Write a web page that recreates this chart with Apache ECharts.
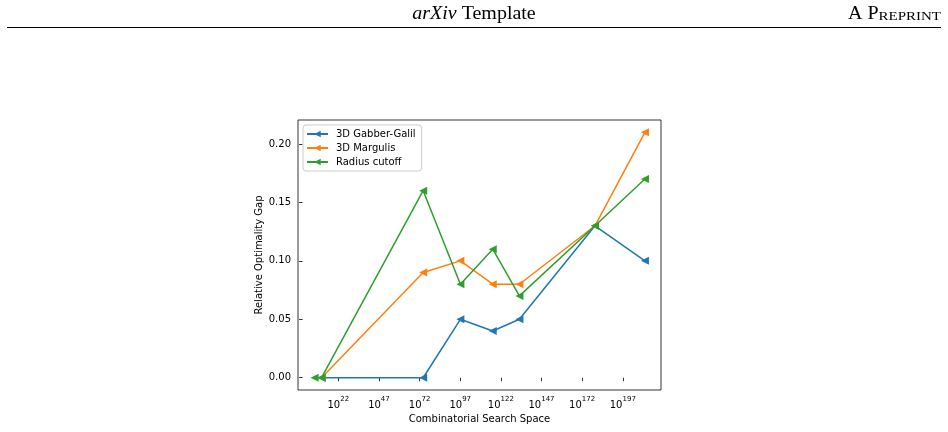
<!DOCTYPE html>
<html>
<head>
<meta charset="utf-8">
<script src="https://cdn.jsdelivr.net/npm/echarts@6/dist/echarts.min.js"></script>
<style>
  html, body { margin: 0; padding: 0; background: #fff; }
  #chart { width: 948px; height: 432px; }
</style>
</head>
<body>
<div id="chart"></div>
<script>
// x values are log10 of the search space size
const xTicks = [22, 47, 72, 97, 122, 147, 172, 197];
const yTicks = [0, 0.05, 0.1, 0.15, 0.2];

const gabberX = [11.7, 74.2, 97.1, 117.0, 133.4, 179.9, 210.6];
const gabberY = [0, 0, 0.05, 0.04, 0.05, 0.13, 0.10];

const margulisX = [11.7, 74.2, 97.1, 117.0, 133.4, 179.9, 210.6];
const margulisY = [0, 0.09, 0.10, 0.08, 0.08, 0.13, 0.21];

const radiusX = [7.4, 11.7, 74.2, 97.1, 117.0, 133.4, 179.9, 210.6];
const radiusY = [0, 0, 0.16, 0.08, 0.11, 0.07, 0.13, 0.17];

const FONT = "DejaVu Sans";
const SERIF = "Liberation Serif";

function pairs(xs, ys) {
  return xs.map((x, i) => [x, ys[i]]);
}

function lineSeries(name, xs, ys, color) {
  return {
    name: name,
    type: "line",
    data: pairs(xs, ys),
    symbol: "triangle",
    symbolSize: 8,
    symbolRotate: 90,
    lineStyle: { color: color, width: 1.5 },
    itemStyle: { color: color },
    animation: false,
  };
}

const chart = echarts.init(document.getElementById("chart"));
chart.setOption({
  backgroundColor: "#fff",
  textStyle: { fontFamily: FONT },
  grid: {
    left: 298, right: 287, top: 120, bottom: 42,
    show: true, borderColor: "#000", borderWidth: 0.8,
  },
  legend: {
    orient: "vertical",
    left: 303, top: 125,
    padding: [4, 6, 4, 3],
    itemWidth: 21, itemHeight: 8, itemGap: 4,
    backgroundColor: "rgba(255,255,255,0.8)",
    borderColor: "#ccc", borderWidth: 1, borderRadius: 3,
    textStyle: { fontFamily: FONT, fontSize: 10, color: "#000", padding: [0, 0, 0, 3] },
    data: ["3D Gabber-Galil", "3D Margulis", "Radius cutoff"],
  },
  xAxis: {
    type: "value",
    min: -2.8, max: 220.5,
    name: "Combinatorial Search Space",
    nameLocation: "middle",
    nameGap: 24,
    nameTextStyle: { fontFamily: FONT, fontSize: 10, color: "#000" },
    splitLine: { show: false },
    axisLine: { show: false },
    axisTick: { show: true, length: 3.5, lineStyle: { color: "#000", width: 0.8 }, customValues: xTicks },
    axisLabel: {
      customValues: xTicks,
      margin: 6,
      formatter: (v) => "{b|10}{s|" + v + "}",
      rich: {
        b: { fontFamily: FONT, fontSize: 10, color: "#000", lineHeight: 14, verticalAlign: "bottom" },
        s: { fontFamily: FONT, fontSize: 7, color: "#000", lineHeight: 9, verticalAlign: "top" },
      },
    },
  },
  yAxis: {
    type: "value",
    min: -0.0105, max: 0.2205,
    name: "Relative Optimality Gap",
    nameLocation: "middle",
    nameGap: 34,
    nameTextStyle: { fontFamily: FONT, fontSize: 10, color: "#000" },
    splitLine: { show: false },
    axisLine: { show: false },
    axisTick: { show: true, length: 3.5, lineStyle: { color: "#000", width: 0.8 }, customValues: yTicks },
    axisLabel: {
      customValues: yTicks,
      margin: 7,
      fontFamily: FONT, fontSize: 10, color: "#000",
      formatter: (v) => v.toFixed(2),
    },
  },
  graphic: [
    {
      type: "text", x: 474, y: 5, scaleX: 1.11,
      style: {
        text: "{i|arXiv}{n| Template}",
        x: 0, y: 0,
        textAlign: "center",
        textVerticalAlign: "top",
        rich: {
          i: { fontFamily: SERIF, fontStyle: "italic", fontSize: 18, fill: "#000" },
          n: { fontFamily: SERIF, fontSize: 18, fill: "#000" },
        },
      },
    },
    {
      type: "text", x: 941, y: 5, scaleX: 1.11,
      style: {
        text: "{a|A P}{c|REPRINT}",
        x: 0, y: 0,
        textAlign: "right",
        textVerticalAlign: "top",
        rich: {
          a: { fontFamily: SERIF, fontSize: 18, fill: "#000" },
          c: { fontFamily: SERIF, fontSize: 13.5, fill: "#000", verticalAlign: "bottom" },
        },
      },
    },
    {
      type: "line",
      shape: { x1: 7, y1: 27.5, x2: 941, y2: 27.5 },
      style: { stroke: "#000", lineWidth: 1 },
    },
  ],
  series: [
    lineSeries("3D Gabber-Galil", gabberX, gabberY, "#1f77b4"),
    lineSeries("3D Margulis", margulisX, margulisY, "#ff7f0e"),
    lineSeries("Radius cutoff", radiusX, radiusY, "#2ca02c"),
  ],
});
</script>
</body>
</html>
